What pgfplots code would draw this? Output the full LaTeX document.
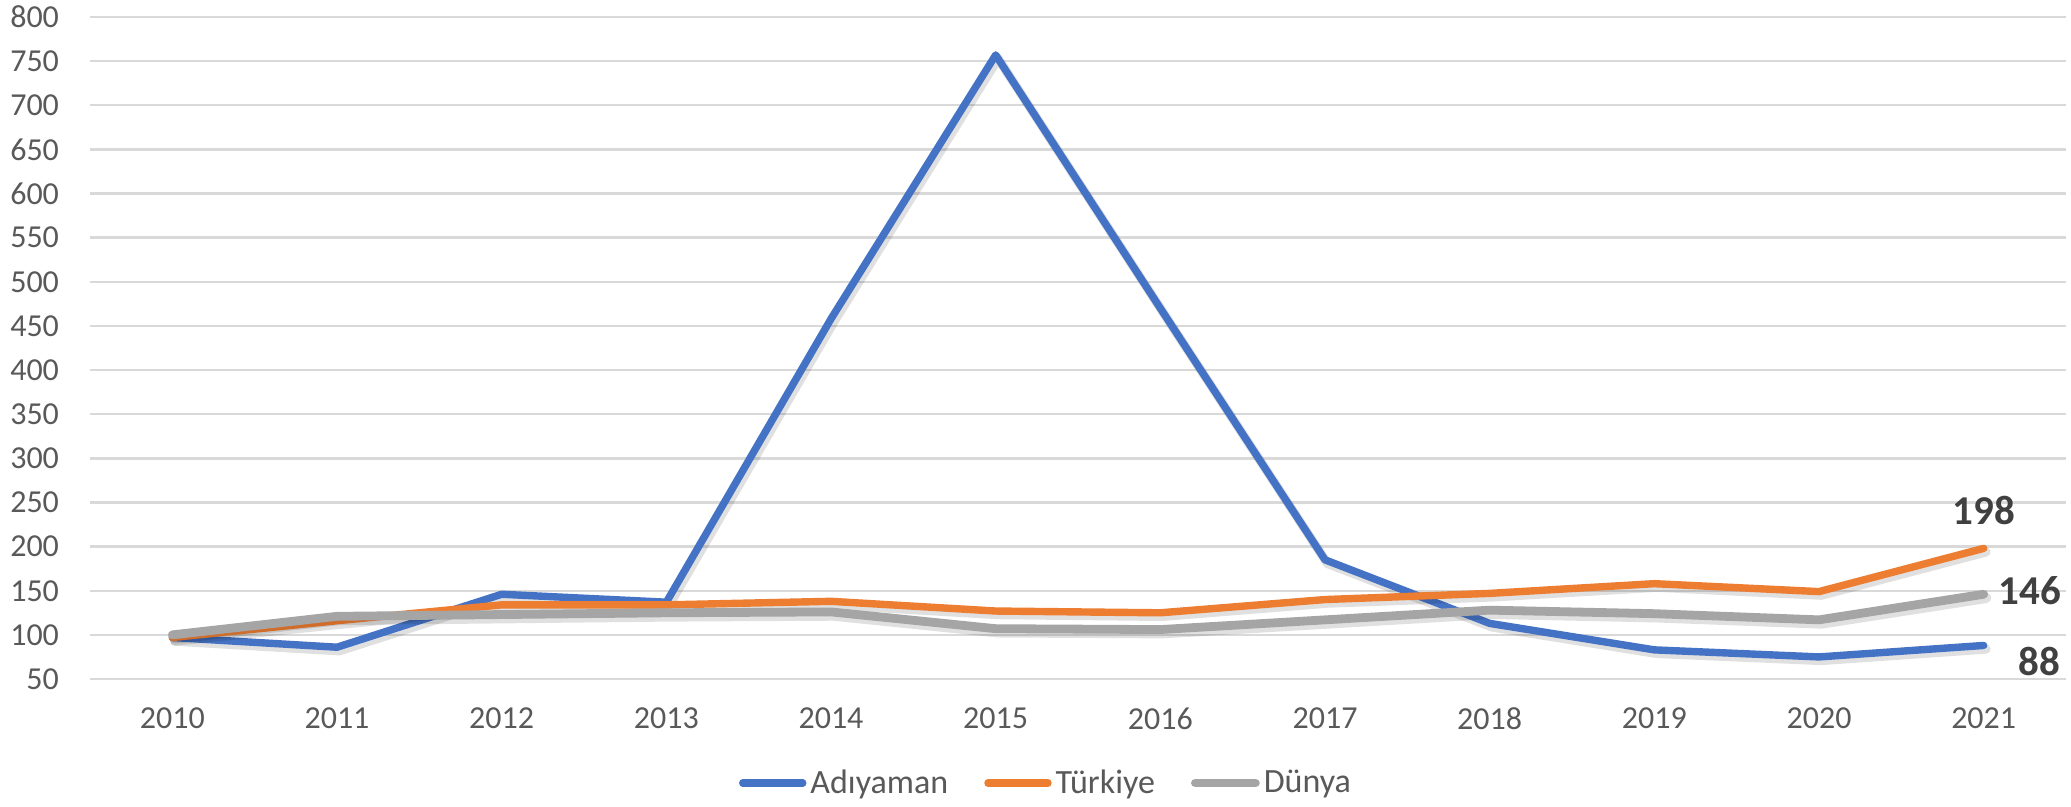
\documentclass[border=0pt]{standalone}
\usepackage{pgfplots}
\pgfplotsset{compat=1.18}
\usepackage{fontspec}
\setmainfont{Carlito}
\definecolor{cblue}{HTML}{4472C4}
\definecolor{corange}{HTML}{ED7D31}
\definecolor{cgray}{HTML}{A5A5A5}
\definecolor{cgrid}{HTML}{D9D9D9}
\definecolor{ctext}{HTML}{595959}
\definecolor{clab}{HTML}{404040}
\pgfplotstableread{
x ady tur dun
0 97 97 100
1 86 116 121
2 146 134 123
3 137 134 125
4 458 138 126
5 757 127 107
6 470 125 106
7 185 140 117
8 113 147 128
9 83 158 124
10 75 149 117
11 88 198 146
}\data
\begin{document}
\begin{tikzpicture}
\begin{axis}[
  at={(0,0)}, anchor=south west,
  scale only axis, width=988pt, height=331pt,
  xmin=-0.5, xmax=11.5, ymin=50, ymax=800,
  xtick={0,...,11},
  xticklabels={2010,2011,2012,2013,2014,2015,2016,2017,2018,2019,2020,2021},
  ytick={50,100,...,800},
  ymajorgrids, grid style={cgrid, line width=1.2pt},
  axis line style={draw=none},
  major tick length=0pt,
  tick label style={font=\fontsize{16}{18}\selectfont, text=ctext},
  /pgf/number format/assume math mode=true,
  yticklabel style={xshift=-12pt},
  xticklabel style={yshift=-11pt},
  clip=false,
  legend style={at={(478.5pt,-52pt)}, anchor=center, draw=none, fill=none,
    legend columns=3, font=\fontsize{17}{19}\selectfont, text=ctext,
    /tikz/every even column/.append style={column sep=16pt}},
  legend image code/.code={\draw[#1, line cap=round] (0pt,0pt) -- (30pt,0pt);},
  shadow/.style={black, opacity=0.12, line join=round, line cap=round, forget plot,
    transform canvas={xshift=1.2pt, yshift=-1.8pt}},
]
\addplot[shadow, line width=4.6pt] table[x=x, y=ady] {\data};
\addplot[cblue, line width=3.7pt, line join=round, line cap=round] table[x=x, y=ady] {\data};
\addlegendentry{Adıyaman}
\addplot[shadow, line width=4.6pt] table[x=x, y=tur] {\data};
\addplot[corange, line width=3.7pt, line join=round, line cap=round] table[x=x, y=tur] {\data};
\addlegendentry{Türkiye}
\addplot[shadow, line width=5.2pt] table[x=x, y=dun] {\data};
\addplot[cgray, line width=4.4pt, line join=round, line cap=round] table[x=x, y=dun] {\data};
\addlegendentry{Dünya}
\node[font=\bfseries\fontsize{20.5}{22}\selectfont, text=clab, anchor=south] at (axis cs:11,198) [yshift=8pt] {198};
\node[font=\bfseries\fontsize{20.5}{22}\selectfont, text=clab, anchor=west] at (axis cs:11,146) [xshift=4pt, yshift=2pt] {146};
\node[font=\bfseries\fontsize{20.5}{22}\selectfont, text=clab, anchor=west] at (axis cs:11,88) [xshift=14pt, yshift=-8pt] {88};
\end{axis}
\pgfresetboundingbox
\path[use as bounding box] (-45pt,-64pt) rectangle (990.5pt,339.5pt);
\end{tikzpicture}
\end{document}
